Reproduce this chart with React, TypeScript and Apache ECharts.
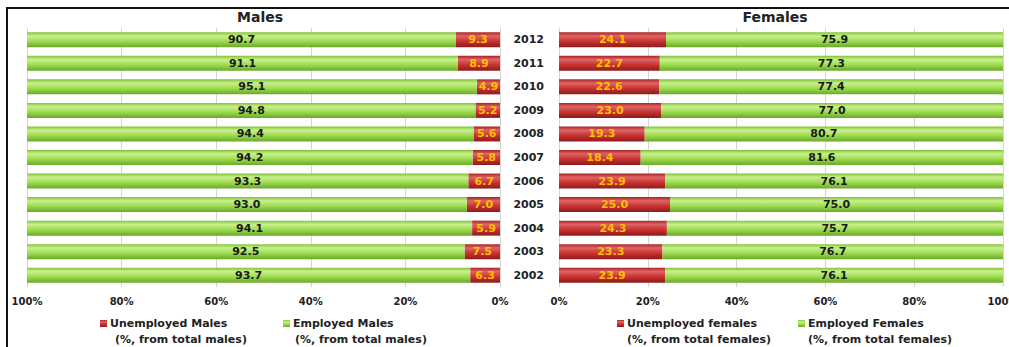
import React, { useEffect, useRef } from "react";
import * as echarts from "echarts";

const years = ["2002", "2003", "2004", "2005", "2006", "2007", "2008", "2009", "2010", "2011", "2012"];
const unemployedMales = [6.3, 7.5, 5.9, 7.0, 6.7, 5.8, 5.6, 5.2, 4.9, 8.9, 9.3];
const employedMales = [93.7, 92.5, 94.1, 93.0, 93.3, 94.2, 94.4, 94.8, 95.1, 91.1, 90.7];
const unemployedFemales = [23.9, 23.3, 24.3, 25.0, 23.9, 18.4, 19.3, 23.0, 22.6, 22.7, 24.1];
const employedFemales = [76.1, 76.7, 75.7, 75.0, 76.1, 81.6, 80.7, 77.0, 77.4, 77.3, 75.9];

const FONT = "DejaVu Sans";

const green = new echarts.graphic.LinearGradient(0, 0, 0, 1, [
  { offset: 0, color: "#82c236" },
  { offset: 0.25, color: "#c9f08e" },
  { offset: 0.6, color: "#9ddc4f" },
  { offset: 1, color: "#6aa82a" },
]);
const red = new echarts.graphic.LinearGradient(0, 0, 0, 1, [
  { offset: 0, color: "#a82424" },
  { offset: 0.25, color: "#e06464" },
  { offset: 0.6, color: "#c83232" },
  { offset: 1, color: "#8e1b1b" },
]);

const greenLabel = {
  show: true,
  position: "inside",
  color: "#1a1a1a",
  fontFamily: FONT,
  fontWeight: "bold",
  fontSize: 11,
  formatter: (p: any) => p.value.toFixed(1),
};
const redLabel = {
  show: true,
  position: "inside",
  color: "#ffc000",
  fontFamily: FONT,
  fontWeight: "bold",
  fontSize: 11,
  formatter: (p: any) => p.value.toFixed(1),
};

export default function App() {
  const ref = useRef<HTMLDivElement>(null);
  useEffect(() => {
    const chart = echarts.init(ref.current!, null, { renderer: "svg" });
    const axisLabel = {
      fontFamily: FONT,
      fontWeight: "bold",
      fontSize: 10,
      color: "#222",
      margin: 9,
      formatter: "{value}%",
    };
    const legendCommon = {
      top: 318,
      padding: 0,
      icon: "rect",
      itemWidth: 7,
      itemHeight: 7,
      itemGap: 0,
      selectedMode: false,
      textStyle: { fontFamily: FONT, fontWeight: "bold", fontSize: 11, color: "#222", padding: [0, 0, 0, -2] },
    };
    const sub = (x: number, text: string) => ({
      type: "text",
      left: x,
      top: 334,
      style: { text, fontFamily: FONT, fontWeight: "bold", fontSize: 11, fill: "#222" },
    });
    const titleStyle = { fontFamily: FONT, fontWeight: "bold", fontSize: 14, color: "#222" };
    chart.setOption({
      animation: false,
      title: [
        { text: "Males", left: 260, top: 10, padding: 0, textAlign: "center", textStyle: titleStyle },
        { text: "Females", left: 775, top: 10, padding: 0, textAlign: "center", textStyle: titleStyle },
      ],
      grid: [
        { left: 27, right: 509, top: 28, height: 259, outerBoundsMode: "none", containLabel: false },
        { left: 559, right: 6, top: 28, height: 259, outerBoundsMode: "none", containLabel: false },
      ],
      xAxis: [
        {
          gridIndex: 0, type: "value", inverse: true, min: 0, max: 100, interval: 20,
          axisLabel, axisLine: { show: false }, axisTick: { show: false },
          splitLine: { lineStyle: { color: "#d4d4d4" } },
        },
        {
          gridIndex: 1, type: "value", min: 0, max: 100, interval: 20,
          axisLabel, axisLine: { show: false }, axisTick: { show: false },
          splitLine: { lineStyle: { color: "#d4d4d4" } },
        },
      ],
      yAxis: [
        {
          gridIndex: 0, type: "category", data: years, position: "right",
          axisLabel: { show: false }, axisTick: { show: false },
          axisLine: { lineStyle: { color: "#d4d4d4" } },
        },
        {
          gridIndex: 1, type: "category", data: years, position: "left",
          axisLabel: { fontFamily: FONT, fontWeight: "bold", fontSize: 11, color: "#222", margin: 15 },
          axisTick: { show: false },
          axisLine: { lineStyle: { color: "#d4d4d4" } },
        },
      ],
      legend: [
        { ...legendCommon, left: 100, data: ["Unemployed Males"] },
        { ...legendCommon, left: 283, data: ["Employed Males"] },
        { ...legendCommon, left: 617, data: ["Unemployed females"] },
        { ...legendCommon, left: 798, data: ["Employed Females"] },
      ],
      graphic: [
        { type: "rect", shape: { x: 7, y: 8, width: 1040, height: 360 }, style: { fill: "none", stroke: "#111", lineWidth: 2 } },
        sub(115, "(%, from total males)"),
        sub(295, "(%, from total males)"),
        sub(627, "(%, from total females)"),
        sub(808, "(%, from total females)"),
      ],
      series: [
        { name: "Unemployed Males", type: "bar", stack: "m", xAxisIndex: 0, yAxisIndex: 0, barWidth: 15, data: unemployedMales, itemStyle: { color: red }, label: redLabel },
        { name: "Employed Males", type: "bar", stack: "m", xAxisIndex: 0, yAxisIndex: 0, barWidth: 15, data: employedMales, itemStyle: { color: green }, label: greenLabel },
        { name: "Unemployed females", type: "bar", stack: "f", xAxisIndex: 1, yAxisIndex: 1, barWidth: 15, data: unemployedFemales, itemStyle: { color: red }, label: redLabel },
        { name: "Employed Females", type: "bar", stack: "f", xAxisIndex: 1, yAxisIndex: 1, barWidth: 15, data: employedFemales, itemStyle: { color: green }, label: greenLabel },
      ],
    });
    return () => chart.dispose();
  }, []);
  return (
    <div
      ref={ref}
      style={{ position: "absolute", left: 0, top: 0, width: 1009, height: 347, background: "#fff" }}
    />
  );
}
